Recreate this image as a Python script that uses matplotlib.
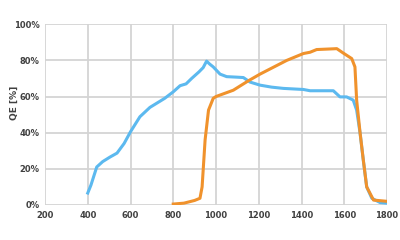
import matplotlib
matplotlib.use("Agg")
import matplotlib.pyplot as plt
from matplotlib.ticker import PercentFormatter

# Blue curve (wavelength nm, QE %)
blue_x = [400, 415, 442, 470, 504, 537, 570, 600, 644, 691, 760, 800, 832, 860, 886, 920, 940, 956,
          970, 987, 1019, 1050, 1100, 1128, 1159, 1206, 1260, 1315, 1409, 1440, 1500, 1549, 1580,
          1611, 1642, 1658, 1674, 1689, 1705, 1729, 1768, 1800]
blue_y = [6.6, 11, 21, 24, 26.5, 28.7, 34, 40.5, 48.8, 54, 59, 62.6, 66, 67, 70, 73.6, 76, 79.6,
          78, 76.4, 72.4, 71, 70.7, 70.5, 68, 66.3, 65.2, 64.5, 63.9, 63.2, 63.2, 63.2, 59.8,
          59.8, 58, 52.5, 39.8, 24.9, 10, 3.7, 1.3, 1]

# Orange curve
orange_x = [800, 850, 900, 925, 935, 949, 965, 987, 1000, 1081, 1150, 1206, 1331, 1409, 1440,
            1471, 1549, 1565, 1596, 1635, 1650, 1658, 1674, 1689, 1705, 1737, 1783, 1800]
orange_y = [0.5, 1, 2.5, 3.7, 10, 36, 52.5, 59, 60, 63.5, 68.6, 72.4, 80, 83.8, 84.5,
            86, 86.4, 86.5, 84, 81, 76.4, 58, 40, 25, 10, 2.7, 2.2, 2]

xticks = [200, 400, 600, 800, 1000, 1200, 1400, 1600, 1800]
yticks = [0, 20, 40, 60, 80, 100]

fig = plt.figure(figsize=(4, 2.4), dpi=100)
ax = fig.add_axes([0.1125, 0.146, 0.855, 0.753])

ax.plot(blue_x, blue_y, color="#5cb9ef", lw=2.2, solid_joinstyle="round", zorder=3)
ax.plot(orange_x, orange_y, color="#f0922c", lw=2.2, solid_joinstyle="round", zorder=3)

ax.set_xlim(200, 1800)
ax.set_ylim(0, 100)
ax.set_xticks(xticks)
ax.set_yticks(yticks)
ax.yaxis.set_major_formatter(PercentFormatter(decimals=0))
ax.grid(True, color="#d4d4d4", lw=1.3)
ax.set_axisbelow(True)
for s in ax.spines.values():
    s.set_visible(False)
ax.tick_params(length=0, labelsize=6, colors="#404040", pad=4)
for lab in ax.get_xticklabels() + ax.get_yticklabels():
    lab.set_fontweight("bold")
fig.text(0.035, 0.57, "QE [%]", rotation=90, fontsize=6.5, fontweight="bold",
         color="#404040", ha="center", va="center")

fig.savefig("out.png", dpi=100)
